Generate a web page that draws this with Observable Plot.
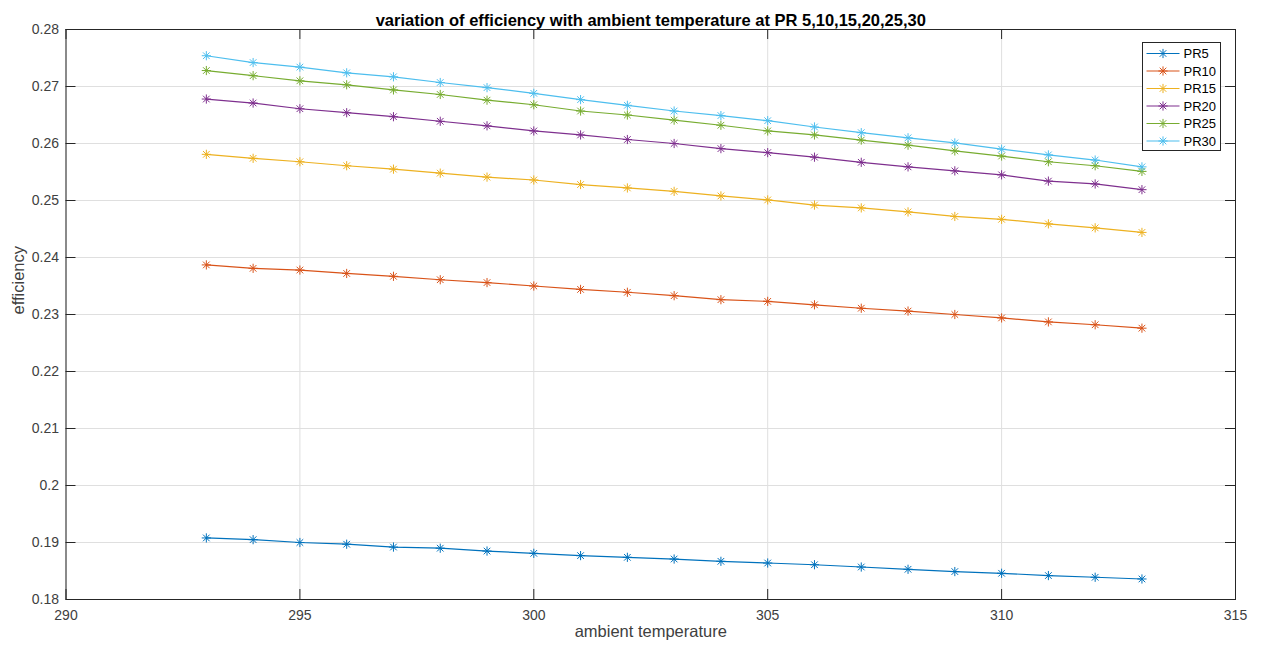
<!DOCTYPE html>
<html>
<head>
<meta charset="utf-8">
<script src="https://cdn.jsdelivr.net/npm/d3@7"></script>
<script src="https://cdn.jsdelivr.net/npm/@observablehq/plot@0.6"></script>
<style>
  html, body { margin: 0; padding: 0; background: #fff; }
  #chart svg { display: block; }
</style>
</head>
<body>
<div id="chart"></div>
<script>
// ---- data ----
const titleText = "variation of efficiency with ambient temperature at PR 5,10,15,20,25,30";
const xLabel = "ambient temperature";
const yLabel = "efficiency";
const seriesNames = ["PR5", "PR10", "PR15", "PR20", "PR25", "PR30"];
const seriesColors = ["#0072BD", "#D95319", "#EDB120", "#7E2F8E", "#77AC30", "#4DBEEE"];
const temps = [293, 294, 295, 296, 297, 298, 299, 300, 301, 302, 303, 304, 305, 306, 307, 308, 309, 310, 311, 312, 313];
const pr5  = [0.1908, 0.1905, 0.1900, 0.1897, 0.1892, 0.1890, 0.1885, 0.1881, 0.1877, 0.1874, 0.1871, 0.1867, 0.1864, 0.1861, 0.1857, 0.1853, 0.1849, 0.1846, 0.1842, 0.1839, 0.1836];
const pr10 = [0.2387, 0.2381, 0.2378, 0.2372, 0.2367, 0.2361, 0.2356, 0.2350, 0.2344, 0.2339, 0.2333, 0.2326, 0.2323, 0.2317, 0.2311, 0.2306, 0.2300, 0.2294, 0.2287, 0.2282, 0.2276];
const pr15 = [0.2581, 0.2574, 0.2568, 0.2561, 0.2555, 0.2548, 0.2541, 0.2536, 0.2528, 0.2522, 0.2516, 0.2508, 0.2501, 0.2492, 0.2487, 0.2480, 0.2472, 0.2467, 0.2459, 0.2452, 0.2444];
const pr20 = [0.2678, 0.2671, 0.2661, 0.2654, 0.2647, 0.2639, 0.2631, 0.2622, 0.2615, 0.2607, 0.2600, 0.2591, 0.2584, 0.2576, 0.2567, 0.2559, 0.2552, 0.2545, 0.2534, 0.2529, 0.2519];
const pr25 = [0.2728, 0.2719, 0.2710, 0.2703, 0.2694, 0.2686, 0.2676, 0.2668, 0.2657, 0.2650, 0.2641, 0.2632, 0.2622, 0.2615, 0.2606, 0.2597, 0.2587, 0.2578, 0.2568, 0.2561, 0.2551];
const pr30 = [0.2754, 0.2742, 0.2734, 0.2724, 0.2717, 0.2707, 0.2698, 0.2688, 0.2677, 0.2667, 0.2657, 0.2649, 0.2640, 0.2629, 0.2619, 0.2610, 0.2601, 0.2590, 0.2580, 0.2571, 0.2559];
const xTicks = [290, 295, 300, 305, 310, 315];
const yTicks = [0.18, 0.19, 0.20, 0.21, 0.22, 0.23, 0.24, 0.25, 0.26, 0.27, 0.28];
const yTickLabels = ["0.18", "0.19", "0.2", "0.21", "0.22", "0.23", "0.24", "0.25", "0.26", "0.27", "0.28"];

const seriesValues = [pr5, pr10, pr15, pr20, pr25, pr30];
const rows = [];
seriesNames.forEach((name, i) => {
  temps.forEach((t, j) => rows.push({series: name, temp: t, eff: seriesValues[i][j]}));
});

// MATLAB-style asterisk marker (+ and x combined)
const asterisk = {
  draw(ctx, size) {
    const r = Math.sqrt(size / Math.PI);
    const d = r * 0.72;
    ctx.moveTo(0, -r); ctx.lineTo(0, r);
    ctx.moveTo(-r, 0); ctx.lineTo(r, 0);
    ctx.moveTo(-d, -d); ctx.lineTo(d, d);
    ctx.moveTo(-d, d); ctx.lineTo(d, -d);
  }
};

const W = 1265, H = 651;
const mL = 65.5, mR = 30, mT = 29, mB = 52;
const plotW = W - mL - mR, plotH = H - mT - mB;
const axisColor = "#262626";
const gridColor = "#dfdfdf";
const tickLen = 10;
const font = "'Liberation Sans', Arial, Helvetica, sans-serif";

const svg = Plot.plot({
  width: W,
  height: H,
  marginLeft: mL,
  marginRight: mR,
  marginTop: mT,
  marginBottom: mB,
  style: {fontFamily: font, fontSize: "14px", color: axisColor, background: "#fff", overflow: "visible"},
  x: {domain: [290, 315]},
  y: {domain: [0.18, 0.28]},
  color: {domain: seriesNames, range: seriesColors},
  marks: [
    Plot.ruleX(xTicks, {x: d => d, stroke: gridColor, strokeWidth: 1}),
    Plot.ruleY(yTicks, {y: d => d, stroke: gridColor, strokeWidth: 1}),
    Plot.line(rows, {x: "temp", y: "eff", z: "series", stroke: "series", strokeWidth: 1.2}),
    Plot.dot(rows, {x: "temp", y: "eff", stroke: "series", fill: "none", symbol: asterisk, r: 4.6, strokeWidth: 1}),
    Plot.frame({stroke: axisColor, strokeWidth: 1}),
    // inward ticks
    Plot.tickX(xTicks, {x: d => d, insetTop: plotH - tickLen, stroke: axisColor}),
    Plot.tickX(xTicks, {x: d => d, insetBottom: plotH - tickLen, stroke: axisColor}),
    Plot.tickY(yTicks, {y: d => d, insetRight: plotW - tickLen, stroke: axisColor}),
    Plot.tickY(yTicks, {y: d => d, insetLeft: plotW - tickLen, stroke: axisColor}),
    Plot.axisX(xTicks, {tickSize: 0, tickPadding: 11, label: null, fontSize: 14, tickFormat: d => String(d), fill: "#404040"}),
    Plot.axisY(yTicks, {tickSize: 0, tickPadding: 7, label: null, fontSize: 14, tickFormat: (d, i) => yTickLabels[i], fill: "#404040"}),
    Plot.text([xLabel], {frameAnchor: "bottom", dy: 37, fontSize: 16.5, fill: "#404040"}),
    Plot.text([yLabel], {frameAnchor: "left", dx: -47.5, rotate: -90, fontSize: 16.5, fill: "#404040"}),
    Plot.text([titleText], {frameAnchor: "top", dy: -15, fontSize: 16.5, fontWeight: "bold", fill: "#000"})
  ]
});

// Legend (MATLAB-style, inside top-right)
const lg = d3.select(svg).append("g")
  .attr("font-family", font).attr("font-size", 13).attr("text-anchor", "start");
const lx = 1142.5, ly = 42.5, lw = 78, rowH = 17.5;
const lh = seriesNames.length * rowH + 3;
lg.append("rect").attr("x", lx).attr("y", ly).attr("width", lw).attr("height", lh)
  .attr("fill", "#fff").attr("stroke", axisColor).attr("stroke-width", 1);
seriesNames.forEach((name, i) => {
  const cy = ly + 11 + i * rowH;
  lg.append("line").attr("x1", lx + 4).attr("x2", lx + 37).attr("y1", cy).attr("y2", cy)
    .attr("stroke", seriesColors[i]).attr("stroke-width", 1.2);
  const r = 4.6, d = r * 0.72, cx = lx + 20.5;
  lg.append("path")
    .attr("d", `M${cx},${cy - r}L${cx},${cy + r}M${cx - r},${cy}L${cx + r},${cy}M${cx - d},${cy - d}L${cx + d},${cy + d}M${cx - d},${cy + d}L${cx + d},${cy - d}`)
    .attr("stroke", seriesColors[i]).attr("fill", "none");
  lg.append("text").attr("x", lx + 41).attr("y", cy).attr("dy", "0.35em").attr("fill", "#000").text(name);
});

document.getElementById("chart").appendChild(svg);
</script>
</body>
</html>
